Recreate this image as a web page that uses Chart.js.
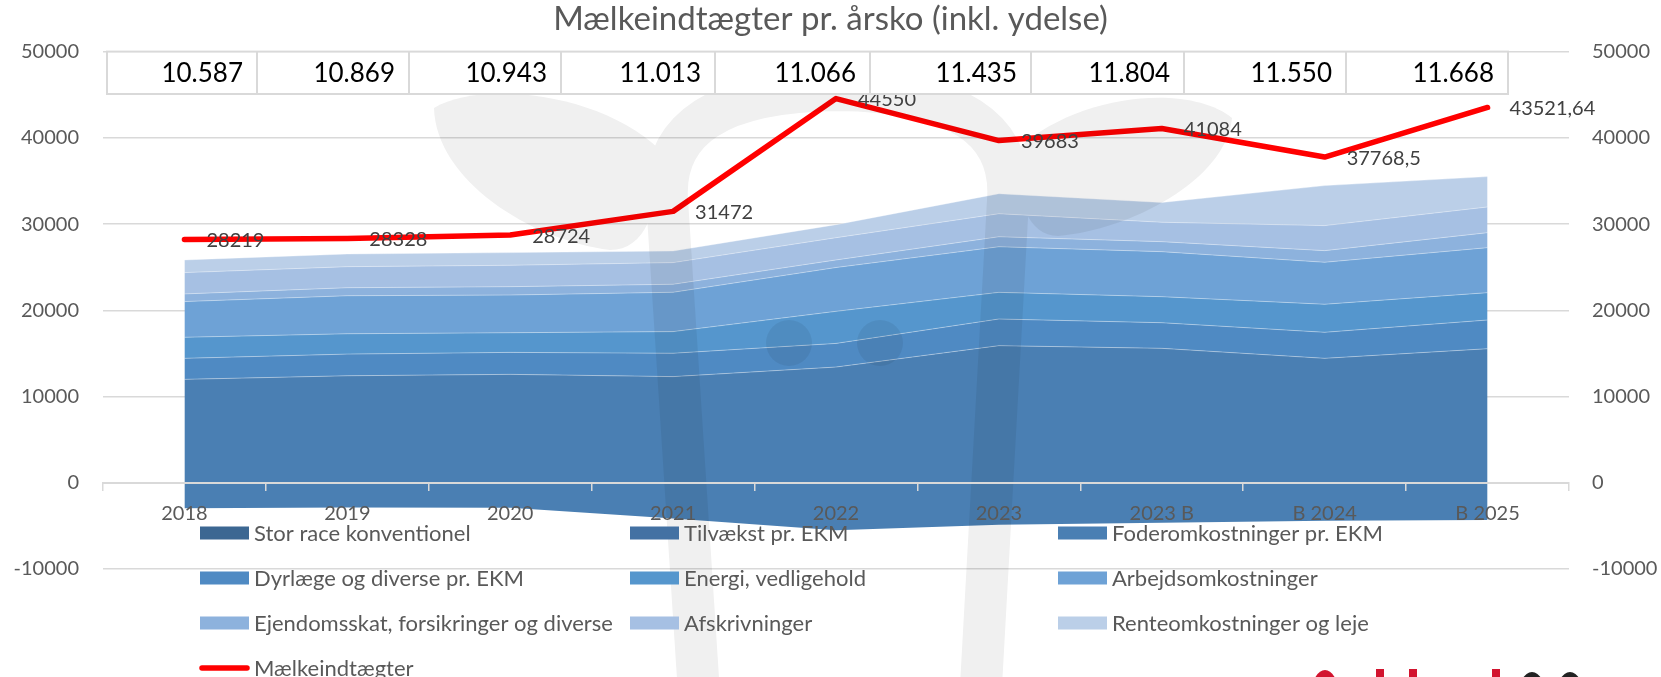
<!DOCTYPE html>
<html>
<head>
<meta charset="utf-8">
<script src="https://cdn.jsdelivr.net/npm/chart.js@4.4.0/dist/chart.umd.min.js"></script>
<style>
  html, body { margin: 0; padding: 0; background: #fff; }
  #wrap { width: 1661px; height: 677px; position: relative; }
</style>
</head>
<body>
<div id="wrap"><canvas id="chart"></canvas></div>
<script>
const categories = ['2018', '2019', '2020', '2021', '2022', '2023', '2023 B', 'B 2024', 'B 2025'];

// costs per cow, stacked (Tilvækst is negative)
const storRace  = [0, 0, 0, 0, 0, 0, 0, 0, 0];
const tilvaekst = [-2950, -2880, -2900, -4150, -5500, -4880, -4640, -4400, -4330];
const foder     = [14940, 15290, 15470, 16460, 18920, 20780, 20230, 18830, 19875];
const dyrlaege  = [2440, 2510, 2550, 2710, 2740, 3090, 2970, 3020, 3330];
const energi    = [2440, 2360, 2280, 2510, 3720, 3090, 3020, 3250, 3170];
const arbejde   = [4140, 4410, 4370, 4560, 5080, 5290, 5220, 4870, 5220];
const ejendom   = [890, 930, 970, 930, 880, 1160, 1160, 1350, 1740];
const afskriv   = [2470, 2440, 2480, 2510, 2580, 2670, 2250, 2900, 2980];
const rente     = [1470, 1470, 1470, 1350, 1510, 2320, 2290, 4640, 3520];

const maelk = [28219, 28328, 28724, 31472, 44550, 39683, 41084, 37768.5, 43521.64];

// numbers in the table row above the plot
const tabelTal = ['10.587', '10.869', '10.943', '11.013', '11.066', '11.435', '11.804', '11.550', '11.668'];

const yTicks = [-10000, 0, 10000, 20000, 30000, 40000, 50000];

const areaNames = [
  'Stor race konventionel', 'Tilvækst pr. EKM', 'Foderomkostninger pr. EKM',
  'Dyrlæge og diverse pr. EKM', 'Energi, vedligehold', 'Arbejdsomkostninger',
  'Ejendomsskat, forsikringer og diverse', 'Afskrivninger', 'Renteomkostninger og leje'
];
const areaValues = [storRace, tilvaekst, foder, dyrlaege, energi, arbejde, ejendom, afskriv, rente];
const areaColors = ['#3c6792', '#4371a3', '#4a7fb3', '#4f8ac3', '#5596cd', '#6ea2d6', '#8db2dd', '#a6c0e3', '#bbcfe8'];

Chart.defaults.font.family = 'Lato, "Open Sans", sans-serif';

const datasets = areaNames.map((name, i) => ({
  label: name,
  data: areaValues[i],
  backgroundColor: areaColors[i],
  borderColor: i < 2 ? 'rgba(0,0,0,0)' : 'rgba(255,255,255,0.35)',
  borderWidth: i < 2 ? 0 : 1,
  fill: i < 2 ? false : '-1',
  stack: 'costs',
  pointRadius: 0
}));
datasets.push({
  label: 'Mælkeindtægter',
  data: maelk,
  borderColor: '#ff0000',
  backgroundColor: '#ff0000',
  borderWidth: 5.5,
  borderCapStyle: 'round',
  borderJoinStyle: 'round',
  fill: false,
  stack: 'milk',
  order: -1,
  pointRadius: 0
});

// grey logo behind the numbers (cow head), drawn once in black then faded
function drawWatermark(ctx, w, h) {
  const off = document.createElement('canvas');
  off.width = w; off.height = h;
  const o = off.getContext('2d');
  o.fillStyle = '#000';
  o.strokeStyle = '#000';
  o.lineWidth = 42;
  o.beginPath();
  o.moveTo(702, 740);
  o.lineTo(667, 200);
  o.quadraticCurveTo(660, 92, 838, 90);
  o.quadraticCurveTo(1016, 92, 1008, 200);
  o.lineTo(978, 740);
  o.stroke();
  // ears
  o.beginPath();
  o.moveTo(660, 150);
  o.bezierCurveTo(600, 92, 480, 80, 434, 108);
  o.bezierCurveTo(436, 180, 530, 240, 610, 250);
  o.bezierCurveTo(645, 250, 660, 210, 660, 150);
  o.fill();
  o.beginPath();
  o.moveTo(1016, 150);
  o.bezierCurveTo(1080, 92, 1190, 84, 1232, 118);
  o.bezierCurveTo(1226, 180, 1130, 230, 1058, 236);
  o.bezierCurveTo(1028, 236, 1016, 200, 1016, 150);
  o.fill();
  // eyes
  o.beginPath(); o.arc(789, 343, 23, 0, Math.PI * 2); o.fill();
  o.beginPath(); o.arc(880, 343, 23, 0, Math.PI * 2); o.fill();
  ctx.save();
  ctx.globalAlpha = 0.06;
  ctx.drawImage(off, 0, 0);
  ctx.restore();
}

// red/black logo cut off at the bottom right
function drawCornerLogo(ctx) {
  ctx.save();
  ctx.fillStyle = '#d2142f';
  ctx.beginPath(); ctx.ellipse(1325, 692, 13, 22, 0, 0, Math.PI * 2); ctx.fill();
  ctx.fillRect(1376, 669, 8, 10);
  ctx.fillRect(1409, 669, 8, 10);
  ctx.fillRect(1492, 669, 8, 10);
  ctx.fillStyle = '#222';
  ctx.beginPath(); ctx.ellipse(1532, 697, 14, 25, 0, 0, Math.PI * 2); ctx.fill();
  ctx.beginPath(); ctx.ellipse(1570, 697, 14, 25, 0, 0, Math.PI * 2); ctx.fill();
  ctx.restore();
}

// cell edges of the table row (it is not aligned with the categories)
const tabelKanter = [107, 257, 409, 561, 715, 870, 1031, 1184, 1346, 1508];

function drawTable(chart) {
  const ctx = chart.ctx;
  const left = tabelKanter[0], right = tabelKanter[tabelKanter.length - 1];
  const top = chart.chartArea.top, bottom = 94;
  ctx.save();
  ctx.fillStyle = '#fff';
  ctx.fillRect(left, top, right - left, bottom - top);
  ctx.strokeStyle = '#d9d9d9';
  ctx.lineWidth = 2;
  ctx.strokeRect(left, top, right - left, bottom - top);
  tabelKanter.slice(1, -1).forEach(x => {
    ctx.beginPath();
    ctx.moveTo(x, top);
    ctx.lineTo(x, bottom);
    ctx.stroke();
  });
  ctx.font = '26px Lato';
  ctx.fillStyle = '#000';
  ctx.textAlign = 'right';
  ctx.textBaseline = 'middle';
  tabelTal.forEach((t, i) => ctx.fillText(t, tabelKanter[i + 1] - 14, (top + bottom) / 2 + 1));
  ctx.restore();
}

function drawLegend(chart) {
  const ctx = chart.ctx;
  const cols = [200, 630, 1058];
  const rows = [533, 578, 623, 668];
  ctx.save();
  ctx.font = '22px Lato';
  ctx.textBaseline = 'middle';
  ctx.textAlign = 'left';
  chart.data.datasets.forEach((ds, i) => {
    const x = cols[i % 3], y = rows[Math.floor(i / 3)];
    if (ds.stack === 'milk') {
      ctx.strokeStyle = ds.borderColor;
      ctx.lineWidth = 5.5;
      ctx.lineCap = 'round';
      ctx.beginPath();
      ctx.moveTo(x + 2, y);
      ctx.lineTo(x + 47, y);
      ctx.stroke();
    } else {
      ctx.fillStyle = ds.backgroundColor;
      ctx.fillRect(x, y - 6.5, 49, 13);
    }
    ctx.fillStyle = '#595959';
    ctx.fillText(ds.label, x + 54, y + 1);
  });
  ctx.restore();
}

const extras = {
  id: 'extras',
  afterDatasetsDraw(chart) {
    drawWatermark(chart.ctx, chart.width, chart.height);
    // value labels right of the red line points
    const meta = chart.getDatasetMeta(chart.data.datasets.length - 1);
    const ctx = chart.ctx;
    ctx.save();
    ctx.font = '20px Lato';
    ctx.fillStyle = '#404040';
    ctx.textAlign = 'left';
    ctx.textBaseline = 'middle';
    meta.data.forEach((pt, i) => {
      ctx.fillText(String(maelk[i]).replace('.', ','), pt.x + 22, pt.y + 1);
    });
    ctx.restore();
  },
  afterDraw(chart) {
    drawTable(chart);
    drawLegend(chart);
    drawCornerLogo(chart.ctx);
  }
};

new Chart(document.getElementById('chart'), {
  type: 'line',
  data: { labels: categories, datasets },
  options: {
    responsive: true,
    maintainAspectRatio: false,
    animation: false,
    devicePixelRatio: 1,
    layout: { padding: { top: 0, bottom: 108, left: 0, right: 0 } },
    elements: { point: { radius: 0 }, line: { tension: 0 } },
    plugins: {
      legend: { display: false },
      tooltip: { enabled: false },
      title: {
        display: true,
        text: 'Mælkeindtægter pr. årsko (inkl. ydelse)',
        color: '#595959',
        font: { size: 33, weight: 'normal' },
        padding: { top: 0, bottom: 12 }
      }
    },
    scales: {
      x: {
        type: 'category',
        position: { y: 0 },
        offset: true,
        grid: { display: true, drawOnChartArea: false, drawTicks: true, tickLength: 7, offset: true, color: '#d9d9d9', lineWidth: 1.5, z: 1 },
        border: { display: true, color: '#d9d9d9', width: 2, z: 1 },
        ticks: { color: '#595959', font: { size: 20 }, padding: 12, maxRotation: 0, autoSkip: false, z: 1 }
      },
      y: {
        type: 'linear',
        position: 'left',
        min: yTicks[0],
        max: yTicks[yTicks.length - 1],
        stacked: 'single',
        afterBuildTicks(s) { s.ticks = yTicks.map(v => ({ value: v })); },
        afterFit(s) { s.width = 103; },
        grid: { color: '#d9d9d9', lineWidth: 1.5, drawTicks: false },
        border: { display: false },
        ticks: { color: '#595959', font: { size: 20 }, padding: 24, callback: v => String(v) }
      },
      y2: {
        type: 'linear',
        position: 'right',
        min: yTicks[0],
        max: yTicks[yTicks.length - 1],
        afterBuildTicks(s) { s.ticks = yTicks.map(v => ({ value: v })); },
        afterFit(s) { s.width = 92; },
        grid: { display: false, drawTicks: false },
        border: { display: false },
        ticks: { color: '#595959', font: { size: 20 }, padding: 23, callback: v => String(v) }
      }
    }
  },
  plugins: [extras]
});
</script>
</body>
</html>
